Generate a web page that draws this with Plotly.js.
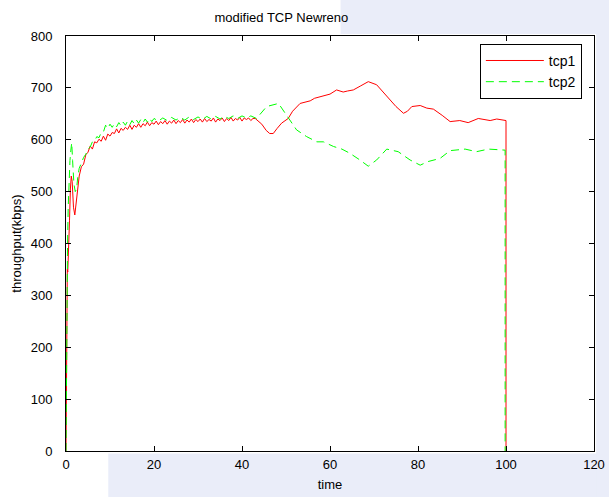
<!DOCTYPE html>
<html>
<head>
<meta charset="utf-8">
<script src="https://cdn.plot.ly/plotly-3.0.1.min.js"></script>
<style>html,body{margin:0;padding:0;background:#fff;}#chart{width:609px;height:497px;}</style>
</head>
<body>
<div id="chart"></div>
<script>
// ---- data ----
var tcp1_x = [0,0.1,0.2,0.3,0.4,0.6,0.8,1.0,1.2,1.4,1.7,2.0,2.2,2.5,2.8,
  3.0,3.5,4.0,4.5,5.0,5.5,6.0,6.5,7.0,7.5,8.0,8.5,9.0,9.5,10.0,10.5,11.0,11.5,12.0,12.5,13.0,13.5,14.0,14.5,15.0,15.5,16.0,16.5,17.0,17.5,18.0,18.5,19.0,19.5,20.0,20.5,21.0,21.5,22.0,22.5,23.0,23.5,24.0,24.5,25.0,25.5,26.0,26.5,27.0,27.5,28.0,28.5,29.0,29.5,30.0,30.5,31.0,31.5,32.0,32.5,33.0,33.5,34.0,34.5,35.0,35.5,36.0,36.5,37.0,37.5,38.0,38.5,39.0,39.5,40.0,40.5,41.0,41.5,42.0,42.5,43.0,
  44.5,45.5,46.3,47.1,48.0,49.0,50.5,51.5,53.2,55.5,56.5,57.7,59.0,60.0,61.5,63.0,64.0,65.3,67.0,68.7,70.6,72.0,73.6,75.0,76.7,77.6,78.6,80.5,82.0,83.5,85.5,87.3,89.5,91.4,93.7,96.4,97.9,100.0,100.0];
var tcp1_y = [0,165,172,350,345,430,445,505,530,520,470,455,470,505,522,
  530,548,553,571,576,588,582,596,594,601,597,607,599,611,607,614,612,621,613,622,618,624,620,628,620,628,624,631,624,631,627,634,627,633,630,636,629,635,631,637,630,636,632,638,631,637,633,639,632,638,634,640,633,639,635,640,634,641,635,639,636,642,634,640,637,642,635,641,637,643,636,641,638,643,636,642,639,642,637,641,641,
  630,618,612,612,622,632,641,655,670,675,680,683,686,688,696,692,694,696,704,712,706,693,677,664,651,655,664,666,661,659,647,635,637,633,641,637,640,637,0];

var tcp2_x = [0,0.1,0.2,0.35,0.5,0.7,0.9,1.1,1.3,1.5,1.8,2.1,2.4,2.7,3.0,
  3.5,4.0,4.5,5.0,5.5,6.0,6.5,7.0,7.5,8.0,8.5,9.0,9.5,10.0,10.5,11.0,11.5,12.0,12.5,13.0,13.5,14.0,14.5,15.0,15.5,16.0,16.5,17.0,17.5,18.0,18.5,19.0,19.5,20.0,21.0,22.0,23.0,24.0,25.0,26.0,27.0,28.0,29.0,30.0,31.0,32.0,33.0,34.0,35.0,36.0,37.0,38.0,39.0,40.0,41.0,42.0,43.3,
  45.6,48.3,49.5,50.5,52.4,54.7,57.0,58.5,60.8,62.7,64.5,66.8,68.7,70.6,72.9,75.5,78.2,80.5,82.3,85.0,87.3,90.7,93.3,96.0,98.3,99.8,99.8];
var tcp2_y = [0,185,190,400,470,540,560,580,594,560,515,500,505,530,545,
  555,566,572,582,586,596,598,606,604,614,615,628,622,630,624,631,625,633,627,634,628,636,629,637,631,638,632,639,633,640,634,641,635,641,636,642,637,643,638,643,638,644,639,644,639,645,640,645,640,645,641,646,641,646,642,646,641,
  664,670,655,641,619,606,596,596,587,582,574,561,549,561,582,577,561,551,558,564,579,582,577,582,580,580,0];

var xTicks = [0,20,40,60,80,100,120];
var yTicks = [0,100,200,300,400,500,600,700,800];

var font = 'Liberation Sans, Arial, sans-serif';
var wm = 'rgba(196,202,238,0.35)';

var traces = [
  {x: tcp1_x, y: tcp1_y, name: 'tcp1', type: 'scatter', mode: 'lines',
   line: {color: '#ff0000', width: 1}},
  {x: tcp2_x, y: tcp2_y, name: 'tcp2', type: 'scatter', mode: 'lines',
   line: {color: '#00ff00', width: 1, dash: '8px,5px'}}
];

var axisCommon = {
  showgrid: false, zeroline: false, showline: true, linecolor: '#000', linewidth: 1,
  mirror: 'ticks', ticks: 'inside', ticklen: 5, tickcolor: '#000',
  tickfont: {family: font, size: 13, color: '#000'}
};

var layout = {
  width: 609, height: 497,
  margin: {l: 66, r: 15, t: 36, b: 46},
  paper_bgcolor: '#ffffff', plot_bgcolor: '#ffffff',
  showlegend: true,
  title: {text: 'modified TCP Newreno', font: {family: font, size: 13, color: '#000'},
          xref: 'container', x: 0.462, xanchor: 'center', yref: 'container', y: 0.964, yanchor: 'middle'},
  xaxis: Object.assign({}, axisCommon, {range: [0, 120], tickvals: xTicks, ticktext: xTicks.map(String),
    ticklabelstandoff: 1,
    title: {text: 'time', font: {family: font, size: 13, color: '#000'}, standoff: 9}}),
  yaxis: Object.assign({}, axisCommon, {range: [0, 800], tickvals: yTicks, ticktext: yTicks.map(String),
    ticklabelstandoff: 10,
    title: {text: 'throughput(kbps)', font: {family: font, size: 13, color: '#000'}, standoff: 6}}),
  legend: {x: 0.977, xanchor: 'right', y: 0.981, yanchor: 'top', bgcolor: '#fff',
    bordercolor: '#000', borderwidth: 1, font: {family: font, size: 14, color: '#000'},
    itemwidth: 58, tracegroupgap: 0},
  shapes: [
    {type: 'rect', xref: 'paper', yref: 'paper', x0: 0.52, x1: 1.03, y0: 1.005, y1: 1.09, fillcolor: wm, line: {width: 0}, layer: 'below'},
    {type: 'rect', xref: 'paper', yref: 'paper', x0: 1.004, x1: 1.03, y0: -0.12, y1: 1.005, fillcolor: wm, line: {width: 0}, layer: 'below'},
    {type: 'rect', xref: 'paper', yref: 'paper', x0: 0.08, x1: 1.004, y0: -0.12, y1: -0.006, fillcolor: wm, line: {width: 0}, layer: 'below'}
  ]
};

Plotly.newPlot('chart', traces, layout, {displayModeBar: false, staticPlot: true});
</script>
</body>
</html>
